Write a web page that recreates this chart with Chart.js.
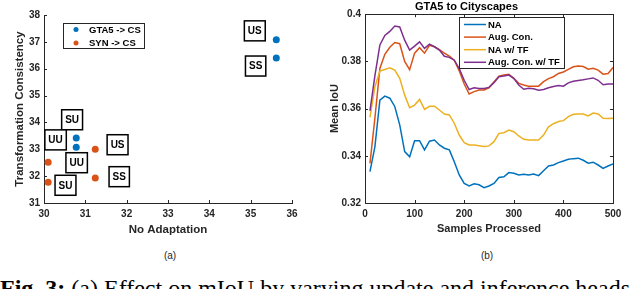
<!DOCTYPE html>
<html>
<head>
<meta charset="utf-8">
<script src="https://cdn.jsdelivr.net/npm/chart.js@4.4.0/dist/chart.umd.min.js"></script>
<style>
  body { margin:0; background:#fff; width:640px; height:289px; overflow:hidden; position:relative; font-family:"Liberation Sans", Arial, sans-serif; }
  .wrap { position:absolute; top:0; width:320px; height:245px; }
  .sub { position:absolute; top:250px; width:30px; text-align:center; font-size:10px; line-height:12px; color:#262626; }
  .caption { position:absolute; left:0; top:276px; font-family:"Liberation Serif","Times New Roman",serif; font-size:24px; white-space:nowrap; line-height:1; color:#000; }
</style>
</head>
<body>
<div class="wrap" style="left:0"><canvas id="chartA" width="320" height="245"></canvas></div>
<div class="wrap" style="left:320px"><canvas id="chartB" width="320" height="245"></canvas></div>
<div class="sub" style="left:155px">(a)</div>
<div class="sub" style="left:472px">(b)</div>
<div class="caption"><b>Fig. 3:</b> (a) Effect on mIoU by varying update and inference heads</div>
<script>
// --- (a) scatter data
const seriesA = ['GTA5 -> CS', 'SYN -> CS'];
const gtaX = [35.62, 35.62, 30.78, 30.78];
const gtaY = [37.08, 36.40, 33.42, 33.08];
const synX = [31.24, 30.10, 30.10, 31.24];
const synY = [33.00, 32.52, 31.77, 31.93];
// boxed head labels (data coords)
const headText = ['US', 'SS', 'SU', 'UU', 'UU', 'US', 'SU', 'SS'];
const headX = [35.10, 35.12, 30.68, 30.28, 30.79, 31.78, 30.52, 31.82];
const headY = [37.41, 36.10, 34.10, 33.35, 32.50, 33.17, 31.66, 31.98];
const xTicksA = [30, 31, 32, 33, 34, 35, 36];
const yTicksA = [31, 32, 33, 34, 35, 36, 37, 38];

// --- (b) line data
const seriesB = ['NA', 'Aug. Con.', 'NA w/ TF', 'Aug. Con. w/ TF'];
const samples = [10, 20, 30, 40, 50, 60, 70, 80, 90, 100,
  110, 120, 130, 140, 150, 160, 170, 180, 190, 200,
  210, 220, 230, 240, 250, 260, 270, 280, 290, 300,
  310, 320, 330, 340, 350, 360, 370, 380, 390, 400,
  410, 420, 430, 440, 450, 460, 470, 480, 490, 500];
const na = [0.3333, 0.3439, 0.3636, 0.3653, 0.3644, 0.3609, 0.3531, 0.3418, 0.3396, 0.3464,
  0.3464, 0.3425, 0.3462, 0.3467, 0.3446, 0.3432, 0.3425, 0.3375, 0.3319, 0.3283,
  0.3272, 0.3281, 0.3277, 0.3265, 0.3272, 0.3283, 0.3308, 0.3311, 0.3329, 0.3326,
  0.3319, 0.3322, 0.3319, 0.3323, 0.3316, 0.3337, 0.3357, 0.3361, 0.3371, 0.3378,
  0.3385, 0.3388, 0.3390, 0.3381, 0.3369, 0.3373, 0.3361, 0.3347, 0.3357, 0.3365];
const augCon = [0.3368, 0.3560, 0.3770, 0.3830, 0.3860, 0.3880, 0.3875, 0.3800, 0.3765, 0.3835,
  0.3858, 0.3835, 0.3868, 0.3862, 0.3850, 0.3835, 0.3822, 0.3805, 0.3760, 0.3704,
  0.3662, 0.3672, 0.3679, 0.3679, 0.3688, 0.3713, 0.3737, 0.3742, 0.3745, 0.3728,
  0.3707, 0.3700, 0.3695, 0.3695, 0.3695, 0.3714, 0.3727, 0.3735, 0.3749, 0.3755,
  0.3766, 0.3777, 0.3780, 0.3778, 0.3767, 0.3771, 0.3763, 0.3746, 0.3749, 0.3774];
const naTF = [0.3563, 0.3693, 0.3759, 0.3766, 0.3773, 0.3763, 0.3728, 0.3657, 0.3604, 0.3615,
  0.3639, 0.3597, 0.3610, 0.3610, 0.3594, 0.3577, 0.3573, 0.3538, 0.3488, 0.3456,
  0.3446, 0.3446, 0.3443, 0.3439, 0.3442, 0.3460, 0.3495, 0.3498, 0.3509, 0.3502,
  0.3484, 0.3470, 0.3467, 0.3467, 0.3467, 0.3488, 0.3523, 0.3536, 0.3545, 0.3549,
  0.3566, 0.3576, 0.3577, 0.3577, 0.3569, 0.3581, 0.3577, 0.3559, 0.3558, 0.3559];
const augConTF = [0.3590, 0.3740, 0.3870, 0.3910, 0.3927, 0.3950, 0.3946, 0.3890, 0.3848, 0.3865,
  0.3883, 0.3855, 0.3873, 0.3862, 0.3848, 0.3822, 0.3817, 0.3805, 0.3770, 0.3720,
  0.3681, 0.3688, 0.3685, 0.3685, 0.3690, 0.3710, 0.3735, 0.3738, 0.3742, 0.3728,
  0.3700, 0.3682, 0.3686, 0.3684, 0.3678, 0.3681, 0.3688, 0.3694, 0.3698, 0.3695,
  0.3709, 0.3716, 0.3719, 0.3722, 0.3726, 0.3730, 0.3720, 0.3701, 0.3704, 0.3704];
const xTicksB = [0, 100, 200, 300, 400, 500];
const yTicksB = [0.32, 0.34, 0.36, 0.38, 0.4];
const yLabelsB = ['0.32', '0.34', '0.36', '0.38', '0.4'];

const FONT = '"Liberation Sans", Arial, sans-serif';
const AXIS = '#262626';
const BLUE = '#0072BD', ORANGE = '#D95319', YELLOW = '#EDB120', PURPLE = '#7E2F8E';
Chart.defaults.font.family = FONT;
Chart.defaults.color = AXIS;

function pts(xs, ys) { return xs.map((v, i) => ({ x: v, y: ys[i] })); }

// inward tick marks and optional full box
const frame = {
  id: 'frame',
  afterDatasetsDraw(chart, args, opts) {
    const { ctx, chartArea: a, scales: { x, y } } = chart;
    ctx.save();
    ctx.strokeStyle = AXIS;
    ctx.lineWidth = 1;
    ctx.beginPath();
    x.ticks.forEach(t => {
      const px = Math.round(x.getPixelForValue(t.value)) + 0.5;
      ctx.moveTo(px, a.bottom); ctx.lineTo(px, a.bottom - 3);
      if (opts.box) { ctx.moveTo(px, a.top); ctx.lineTo(px, a.top + 3); }
    });
    y.ticks.forEach(t => {
      const py = Math.round(y.getPixelForValue(t.value)) + 0.5;
      ctx.moveTo(a.left, py); ctx.lineTo(a.left + 3, py);
      if (opts.box) { ctx.moveTo(a.right, py); ctx.lineTo(a.right - 3, py); }
    });
    ctx.stroke();
    if (opts.box) {
      ctx.strokeRect(Math.round(a.left) + 0.5, Math.round(a.top) + 0.5,
        Math.round(a.right - a.left), Math.round(a.bottom - a.top));
    }
    ctx.restore();
  }
};

// boxed labels + legend for (a)
const extrasA = {
  id: 'extrasA',
  afterDraw(chart) {
    const { ctx, scales: { x, y } } = chart;
    ctx.save();
    ctx.font = 'bold 10px ' + FONT;
    ctx.textAlign = 'center';
    ctx.textBaseline = 'middle';
    headText.forEach((t, i) => {
      const cx = x.getPixelForValue(headX[i]);
      const cy = y.getPixelForValue(headY[i]);
      const w = ctx.measureText(t).width + 7, h = 20;
      ctx.fillStyle = '#fff';
      ctx.fillRect(cx - w / 2, cy - h / 2, w, h);
      ctx.lineWidth = 1.5;
      ctx.strokeStyle = '#000';
      ctx.strokeRect(cx - w / 2, cy - h / 2, w, h);
      ctx.fillStyle = '#000';
      ctx.fillText(t, cx, cy + 0.5);
    });
    // legend
    ctx.font = 'bold 9.5px ' + FONT;
    ctx.textAlign = 'left';
    const colors = [BLUE, ORANGE];
    const tw = Math.max(...seriesA.map(s => ctx.measureText(s).width));
    const bw = Math.max(81, 89 - 63 + tw + 2);
    ctx.fillStyle = '#fff';
    ctx.fillRect(63.5, 23.5, bw, 25);
    ctx.strokeStyle = AXIS;
    ctx.lineWidth = 1;
    ctx.strokeRect(63.5, 23.5, bw, 25);
    seriesA.forEach((s, i) => {
      const ly = 29.5 + i * 13.5;
      ctx.fillStyle = colors[i];
      ctx.beginPath(); ctx.arc(76, ly, 2.5, 0, Math.PI * 2); ctx.fill();
      ctx.fillStyle = '#000';
      ctx.fillText(s, 89, ly + 0.5);
    });
    ctx.restore();
  }
};

const legendB = {
  id: 'legendB',
  afterDraw(chart) {
    const ctx = chart.ctx;
    ctx.save();
    ctx.font = 'bold 9.5px ' + FONT;
    ctx.textBaseline = 'middle';
    const colors = [BLUE, ORANGE, YELLOW, PURPLE];
    const tw = Math.max(...seriesB.map(s => ctx.measureText(s).width));
    const bw = Math.max(105, 168 - 139 + tw + 2);
    ctx.fillStyle = '#fff';
    ctx.fillRect(139.5, 17.5, bw, 51);
    ctx.strokeStyle = AXIS;
    ctx.lineWidth = 1;
    ctx.strokeRect(139.5, 17.5, bw, 51);
    seriesB.forEach((s, i) => {
      const ly = 24.5 + i * 12.6;
      ctx.strokeStyle = colors[i];
      ctx.lineWidth = 1.5;
      ctx.beginPath(); ctx.moveTo(144, ly); ctx.lineTo(166, ly); ctx.stroke();
      ctx.fillStyle = '#000';
      ctx.fillText(s, 168, ly + 0.5);
    });
    ctx.restore();
  }
};

const tickFont = { size: 10, weight: 'bold' };

new Chart(document.getElementById('chartA'), {
  type: 'scatter',
  data: {
    datasets: [
      { label: seriesA[0], data: pts(gtaX, gtaY), backgroundColor: BLUE, borderWidth: 0, pointRadius: 3.5 },
      { label: seriesA[1], data: pts(synX, synY), backgroundColor: ORANGE, borderWidth: 0, pointRadius: 3.5 }
    ]
  },
  options: {
    responsive: false,
    animation: false,
    events: [],
    layout: { padding: { top: 15, right: 28, left: 0, bottom: 0 } },
    plugins: { legend: { display: false }, tooltip: { enabled: false }, frame: { box: false } },
    scales: {
      x: {
        type: 'linear', min: 30, max: 36,
        afterBuildTicks: s => { s.ticks = xTicksA.map(v => ({ value: v })); },
        afterFit: s => { s.height = 42; },
        ticks: { font: tickFont, color: AXIS, padding: 5, maxRotation: 0 },
        grid: { display: false, drawTicks: false },
        border: { display: true, color: AXIS, width: 1 },
        title: { display: true, text: 'No Adaptation', font: { size: 11.5, weight: 'bold' }, color: AXIS, padding: { top: 0, bottom: 8 } }
      },
      y: {
        type: 'linear', min: 31, max: 38,
        afterBuildTicks: s => { s.ticks = yTicksA.map(v => ({ value: v })); },
        afterFit: s => { s.width = 44; },
        ticks: { font: tickFont, color: AXIS, padding: 4 },
        grid: { display: false, drawTicks: false },
        border: { display: true, color: AXIS, width: 1 },
        title: { display: true, text: 'Transformation Consistency', font: { size: 11.5, weight: 'bold' }, color: AXIS, padding: { top: 13, bottom: 0 } }
      }
    }
  },
  plugins: [frame, extrasA]
});

new Chart(document.getElementById('chartB'), {
  type: 'line',
  data: {
    datasets: [
      { label: seriesB[0], data: pts(samples, na), borderColor: BLUE, order: 4 },
      { label: seriesB[1], data: pts(samples, augCon), borderColor: ORANGE, order: 3 },
      { label: seriesB[2], data: pts(samples, naTF), borderColor: YELLOW, order: 2 },
      { label: seriesB[3], data: pts(samples, augConTF), borderColor: PURPLE, order: 1 }
    ]
  },
  options: {
    responsive: false,
    animation: false,
    events: [],
    elements: { line: { borderWidth: 1.5, tension: 0, fill: false }, point: { radius: 0 } },
    layout: { padding: { top: 0, right: 27, left: 0, bottom: 0 } },
    plugins: {
      legend: { display: false }, tooltip: { enabled: false }, frame: { box: true },
      title: { display: true, text: 'GTA5 to Cityscapes', font: { size: 11, weight: 'bold' }, color: '#000', padding: { top: 0, bottom: 1 } }
    },
    scales: {
      x: {
        type: 'linear', min: 0, max: 500,
        afterBuildTicks: s => { s.ticks = xTicksB.map(v => ({ value: v })); },
        afterFit: s => { s.height = 42; },
        ticks: { font: tickFont, color: AXIS, padding: 5, maxRotation: 0, callback: v => String(v) },
        grid: { display: false, drawTicks: false },
        border: { display: true, color: AXIS, width: 1 },
        title: { display: true, text: 'Samples Processed', font: { size: 11, weight: 'bold' }, color: AXIS, padding: { top: 0, bottom: 9 } }
      },
      y: {
        type: 'linear', min: 0.32, max: 0.4,
        afterBuildTicks: s => { s.ticks = yTicksB.map(v => ({ value: v })); },
        afterFit: s => { s.width = 45; },
        ticks: { font: tickFont, color: AXIS, padding: 4, callback: (v, i) => yLabelsB[i] },
        grid: { display: false, drawTicks: false },
        border: { display: true, color: AXIS, width: 1 },
        title: { display: true, text: 'Mean IoU', font: { size: 11, weight: 'bold' }, color: AXIS, padding: { top: 8, bottom: 0 } }
      }
    }
  },
  plugins: [frame, legendB]
});
</script>
</body>
</html>
